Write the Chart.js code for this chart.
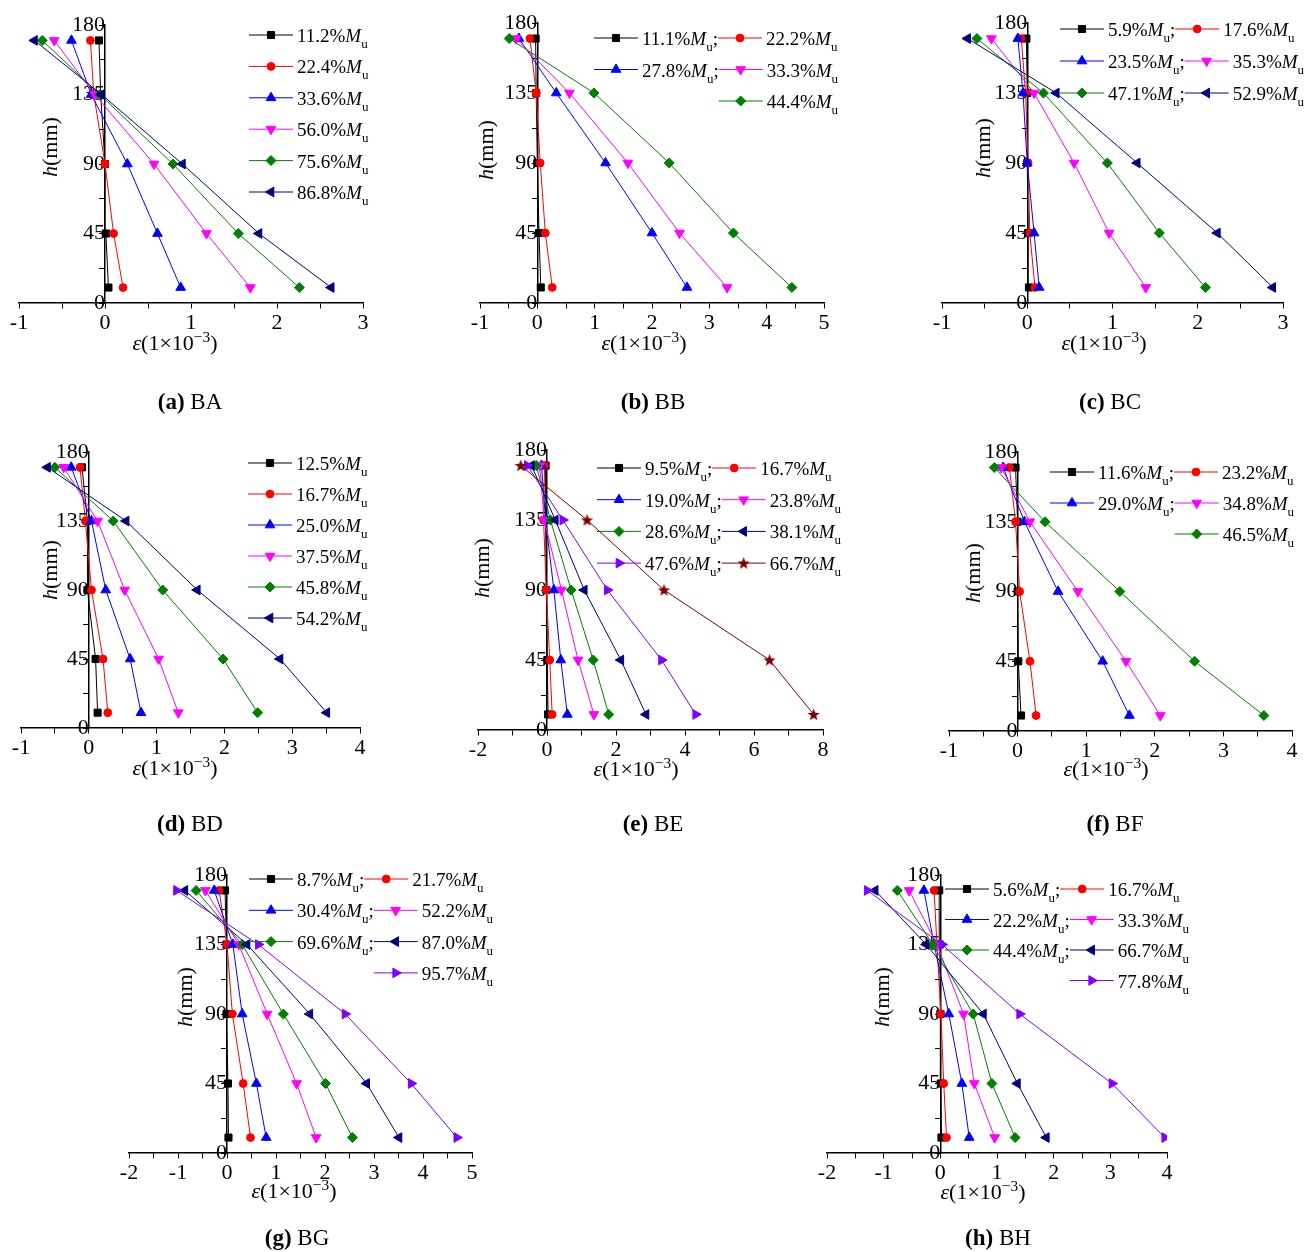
<!DOCTYPE html>
<html>
<head>
<meta charset="utf-8">
<script src="https://cdn.jsdelivr.net/npm/chart.js@4.4.1/dist/chart.umd.min.js"></script>
<style>
html, body { margin: 0; padding: 0; background: #fff; }
body { width: 1306px; height: 1252px; overflow: hidden; position: relative; font-family: "Liberation Serif", "Times New Roman", serif; }
canvas { position: absolute; }
.lbl { position: absolute; transform: translate(-50%, -50%); white-space: nowrap; font-size: 22px; line-height: 1; color: #000; }
.ytitle { transform: translate(-50%, -50%) rotate(-90deg); }
.cap { font-size: 23px; }
sup { font-size: 0.7em; vertical-align: 0.55em; line-height: 0; }
</style>
</head>
<body>
<script>
// heights of the gauges (mm), bottom to top
const heights = [10, 45, 90, 135, 170];

const loadsBA = ['11.2', '22.4', '33.6', '56.0', '75.6', '86.8'];
const strainBA = [
    [0.04, 0.01, 0.00, -0.05, -0.07],
    [0.21, 0.10, 0.00, -0.13, -0.17],
    [0.88, 0.61, 0.26, -0.16, -0.39],
    [1.69, 1.18, 0.57, -0.12, -0.59],
    [2.26, 1.55, 0.79, -0.06, -0.73],
    [2.63, 1.79, 0.90, -0.04, -0.82]
];

const loadsBB = ['11.1', '22.2', '27.8', '33.3', '44.4'];
const strainBB = [
    [0.06, 0.03, 0.00, -0.02, -0.03],
    [0.26, 0.14, 0.05, -0.02, -0.13],
    [2.61, 2.00, 1.19, 0.33, -0.32],
    [3.31, 2.48, 1.58, 0.56, -0.37],
    [4.44, 3.42, 2.30, 0.99, -0.49]
];

const loadsBC = ['5.9', '17.6', '23.5', '35.3', '47.1', '52.9'];
const strainBC = [
    [0.02, 0.01, 0.00, 0.00, -0.01],
    [0.09, 0.03, 0.01, -0.02, -0.07],
    [0.14, 0.08, 0.00, -0.05, -0.11],
    [1.39, 0.96, 0.55, 0.08, -0.42],
    [2.09, 1.55, 0.94, 0.19, -0.59],
    [2.88, 2.23, 1.29, 0.34, -0.70]
];

const loadsBD = ['12.5', '16.7', '25.0', '37.5', '45.8', '54.2'];
const strainBD = [
    [0.13, 0.10, -0.02, -0.02, -0.10],
    [0.28, 0.21, 0.04, -0.05, -0.13],
    [0.77, 0.61, 0.25, 0.04, -0.26],
    [1.32, 1.03, 0.53, 0.13, -0.37],
    [2.49, 1.98, 1.09, 0.36, -0.50],
    [3.51, 2.82, 1.60, 0.55, -0.61]
];

const loadsBE = ['9.5', '16.7', '19.0', '23.8', '28.6', '38.1', '47.6', '66.7'];
const strainBE = [
    [0.03, 0.01, -0.02, -0.04, -0.04],
    [0.15, 0.08, -0.02, -0.10, -0.07],
    [0.59, 0.40, 0.20, -0.04, -0.16],
    [1.36, 0.90, 0.42, -0.08, -0.21],
    [1.79, 1.34, 0.70, 0.10, -0.31],
    [2.87, 2.14, 1.08, 0.24, -0.45],
    [4.31, 3.32, 1.75, 0.46, -0.57],
    [7.73, 6.45, 3.39, 1.16, -0.76]
];

const loadsBF = ['11.6', '23.2', '29.0', '34.8', '46.5'];
const strainBF = [
    [0.05, 0.01, 0.00, 0.00, -0.03],
    [0.27, 0.18, 0.03, -0.03, -0.12],
    [1.63, 1.24, 0.59, 0.10, -0.21],
    [2.08, 1.58, 0.88, 0.18, -0.24],
    [3.59, 2.58, 1.49, 0.40, -0.34]
];

const loadsBG = ['8.7', '21.7', '30.4', '52.2', '69.6', '87.0', '95.7'];
const strainBG = [
    [0.03, 0.02, -0.01, -0.01, -0.04],
    [0.48, 0.33, 0.11, 0.00, -0.16],
    [0.80, 0.60, 0.31, 0.12, -0.26],
    [1.82, 1.42, 0.82, 0.24, -0.44],
    [2.56, 2.01, 1.15, 0.31, -0.63],
    [3.51, 2.85, 1.69, 0.41, -0.86],
    [4.69, 3.76, 2.41, 0.64, -1.03]
];

const loadsBH = ['5.6', '16.7', '22.2', '33.3', '44.4', '66.7', '77.8'];
const strainBH = [
    [0.02, 0.01, 0.00, -0.01, -0.02],
    [0.11, 0.06, 0.01, -0.06, -0.11],
    [0.51, 0.38, 0.15, -0.11, -0.29],
    [0.96, 0.60, 0.41, -0.06, -0.55],
    [1.32, 0.91, 0.58, -0.13, -0.76],
    [1.87, 1.36, 0.76, -0.25, -1.15],
    [3.96, 3.03, 1.40, 0.03, -1.29]
];

const FONT = "'Liberation Serif', 'Times New Roman', serif";
const PADL = 25, PADT = 22, PADR = 45, PADB = 35;
const LINE_LEN = 44;

function makeStar(color, size) {
    const c = document.createElement('canvas');
    c.width = size;
    c.height = size;
    const g = c.getContext('2d');
    const R = size / 2, r = R * 0.42;
    g.beginPath();
    for (let k = 0; k < 10; k++) {
        const a = -Math.PI / 2 + k * Math.PI / 5;
        const rr = k % 2 ? r : R;
        g.lineTo(R + rr * Math.cos(a), R + 0.5 + rr * Math.sin(a));
    }
    g.closePath();
    g.fillStyle = color;
    g.fill();
    return c;
}

const markerStyles = [
    { color: '#000000', style: 'rect', rot: 0, r: 5.0 },
    { color: '#ff0000', style: 'circle', rot: 0, r: 3.9 },
    { color: '#0000ff', style: 'triangle', rot: 0, r: 5.6 },
    { color: '#ff00ff', style: 'triangle', rot: 180, r: 5.6 },
    { color: '#008000', style: 'rectRot', rot: 0, r: 5.0 },
    { color: '#000080', style: 'triangle', rot: 270, r: 5.6 },
    { color: '#8000ff', style: 'triangle', rot: 90, r: 5.6 },
    { color: '#800000', style: makeStar('#800000', 13), rot: 0, r: 6 }
];

const panels = [
    { tag: '(a)', name: 'BA', loads: loadsBA, strain: strainBA, xr: [-1, 3], minor: 0.5, major: 1,
      area: [19, 25, 363, 303], legend: { x: 249, y: 35, dy: 31.4, rows: [[0], [1], [2], [3], [4], [5]] },
      xt: [175, 343], yt: [50, 147], cap: [190, 401] },
    { tag: '(b)', name: 'BB', loads: loadsBB, strain: strainBB, xr: [-1, 5], minor: 0.5, major: 1,
      area: [480, 23, 824, 303], legend: { x: 594, y: 38, dy: 31.5, rows: [[0, 1], [2, 3], [null, 4]] },
      xt: [644, 343], yt: [486, 150], cap: [653, 401] },
    { tag: '(c)', name: 'BC', loads: loadsBC, strain: strainBC, xr: [-1, 3], minor: 0.5, major: 1,
      area: [942, 23, 1283, 303], legend: { x: 1060, y: 29, dy: 32, rows: [[0, 1], [2, 3], [4, 5]] },
      xt: [1104, 343], yt: [983, 148], cap: [1110, 401] },
    { tag: '(d)', name: 'BD', loads: loadsBD, strain: strainBD, xr: [-1, 4], minor: 0.5, major: 1,
      area: [21, 452, 360, 728], legend: { x: 248, y: 463, dy: 31, rows: [[0], [1], [2], [3], [4], [5]] },
      xt: [175, 768], yt: [50, 570], cap: [190, 823] },
    { tag: '(e)', name: 'BE', loads: loadsBE, strain: strainBE, xr: [-2, 8], minor: 1, major: 2,
      area: [478, 450, 823, 730], legend: { x: 597, y: 468, dy: 31.7, rows: [[0, 1], [2, 3], [4, 5], [6, 7]] },
      xt: [636, 769], yt: [482, 568], cap: [653, 823] },
    { tag: '(f)', name: 'BF', loads: loadsBF, strain: strainBF, xr: [-1, 4], minor: 0.5, major: 1,
      area: [949, 452, 1292, 731], legend: { x: 1050, y: 472, dy: 31, rows: [[0, 1], [2, 3], [null, 4]] },
      xt: [1106, 769], yt: [973, 573], cap: [1115, 823] },
    { tag: '(g)', name: 'BG', loads: loadsBG, strain: strainBG, xr: [-2, 5], minor: 0.5, major: 1,
      area: [129, 875, 472, 1153], legend: { x: 249, y: 879, dy: 31.3, rows: [[0, 1], [2, 3], [4, 5], [null, 6]] },
      xt: [294, 1191], yt: [185, 997], cap: [297, 1237] },
    { tag: '(h)', name: 'BH', loads: loadsBH, strain: strainBH, xr: [-2, 4], minor: 0.5, major: 1,
      area: [827, 875, 1167, 1153], legend: { x: 945, y: 889, dy: 30.5, rows: [[0, 1], [2, 3], [4, 5], [null, 6]] },
      xt: [983, 1192], yt: [882, 997], cap: [998, 1237] }
];

function isMultiple(v, step) {
    const q = v / step;
    return Math.abs(q - Math.round(q)) < 1e-6;
}

// legend text: "11.2%" + italic M + subscript u (+ ";" for the left column)
function drawLegendText(ctx, x, y, load, semi, measureOnly) {
    const base = y + 7;
    const parts = [
        { t: load + '%', f: '19px ' + FONT, dy: 0 },
        { t: 'M', f: 'italic 19px ' + FONT, dy: 0 },
        { t: 'u', f: '13px ' + FONT, dy: 6 }
    ];
    if (semi) parts.push({ t: ';', f: '19px ' + FONT, dy: 0 });
    parts.forEach(p => {
        ctx.font = p.f;
        if (!measureOnly) ctx.fillText(p.t, x, base + p.dy);
        x += ctx.measureText(p.t).width;
    });
    return x;
}

function drawEntry(ctx, x, y, idx, load, semi) {
    const st = markerStyles[idx];
    ctx.strokeStyle = st.color;
    ctx.lineWidth = 1;
    ctx.beginPath();
    ctx.moveTo(x, y);
    ctx.lineTo(x + LINE_LEN, y);
    ctx.stroke();
    ctx.fillStyle = st.color;
    Chart.helpers.drawPoint(ctx, { pointStyle: st.style, rotation: st.rot, radius: st.r, borderWidth: 1 }, x + LINE_LEN / 2, y);
    ctx.fillStyle = '#000';
    ctx.textAlign = 'left';
    ctx.textBaseline = 'alphabetic';
    return drawLegendText(ctx, x + LINE_LEN + 4, y, load, semi, false);
}

function legendPlugin(p, left, top) {
    return {
        id: 'strainLegend',
        afterDatasetsDraw(chart) {
            const ctx = chart.ctx;
            const lg = p.legend;
            ctx.save();
            lg.rows.forEach((row, r) => {
                const y = lg.y + r * lg.dy - top;
                let x = lg.x - left;
                row.forEach((idx, c) => {
                    const semi = c === 0 && row.length > 1;
                    if (idx === null) {
                        x = drawLegendText(ctx, x + LINE_LEN + 4, y, '00.0', true, true);
                        return;
                    }
                    x = drawEntry(ctx, x, y, idx, p.loads[idx], semi);
                });
            });
            ctx.restore();
        }
    };
}

function addLabel(html, pos, cls) {
    const d = document.createElement('div');
    d.className = 'lbl ' + (cls || '');
    d.style.left = pos[0] + 'px';
    d.style.top = pos[1] + 'px';
    d.innerHTML = html;
    document.body.appendChild(d);
}

function criarPainel(p) {
    const [l, t, r, b] = p.area;
    const left = l - PADL, top = t - PADT;
    const canvas = document.createElement('canvas');
    canvas.width = r - l + PADL + PADR;
    canvas.height = b - t + PADT + PADB;
    canvas.style.left = left + 'px';
    canvas.style.top = top + 'px';
    document.body.appendChild(canvas);

    const tickFont = { family: FONT, size: 22 };

    new Chart(canvas.getContext('2d'), {
        type: 'scatter',
        data: {
            datasets: p.strain.map((xs, i) => ({
                label: p.loads[i] + '%Mu',
                data: xs.map((v, k) => ({ x: v, y: heights[k] })),
                showLine: true,
                borderColor: markerStyles[i].color,
                backgroundColor: markerStyles[i].color,
                pointBorderColor: markerStyles[i].color,
                pointBackgroundColor: markerStyles[i].color,
                borderWidth: 1,
                pointBorderWidth: 1,
                pointStyle: markerStyles[i].style,
                pointRotation: markerStyles[i].rot,
                pointRadius: markerStyles[i].r,
                order: -i
            }))
        },
        options: {
            responsive: false,
            animation: false,
            devicePixelRatio: 1,
            layout: { padding: { left: PADL, top: PADT, right: PADR, bottom: PADB } },
            plugins: { legend: { display: false }, tooltip: { enabled: false } },
            scales: {
                x: {
                    type: 'linear',
                    position: { y: 0 },
                    min: p.xr[0],
                    max: p.xr[1],
                    ticks: {
                        stepSize: p.minor,
                        autoSkip: false,
                        maxRotation: 0,
                        padding: 2,
                        color: '#000',
                        font: tickFont,
                        callback: v => isMultiple(v, p.major) ? String(Math.round(v)) : ''
                    },
                    grid: { display: true, drawOnChartArea: false, drawTicks: true, tickLength: 5, tickColor: '#000', tickWidth: 1 },
                    border: { display: true, color: '#000', width: 1.5 }
                },
                y: {
                    type: 'linear',
                    position: { x: 0 },
                    min: 0,
                    max: 180,
                    ticks: {
                        stepSize: 22.5,
                        autoSkip: false,
                        padding: 2,
                        color: '#000',
                        font: tickFont,
                        callback: v => isMultiple(v, 45) ? String(Math.round(v)) : ''
                    },
                    grid: { display: true, drawOnChartArea: false, drawTicks: true, tickLength: 5, tickColor: '#000', tickWidth: 1 },
                    border: { display: true, color: '#000', width: 1.5 }
                }
            }
        },
        plugins: [legendPlugin(p, left, top)]
    });

    addLabel('<i>ε</i>(1×10<sup>−3</sup>)', p.xt);
    addLabel('<i>h</i>(mm)', p.yt, 'ytitle');
    addLabel('<b>' + p.tag + '</b> ' + p.name, p.cap, 'cap');
}

panels.forEach(criarPainel);
</script>
</body>
</html>
